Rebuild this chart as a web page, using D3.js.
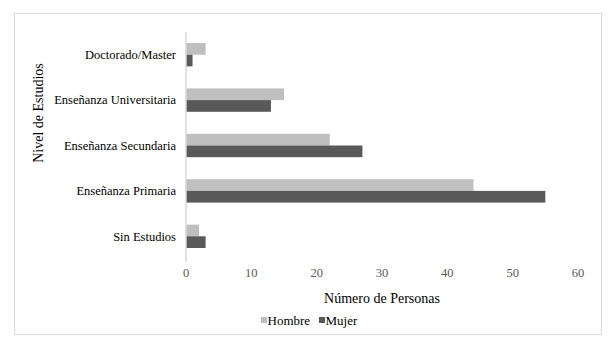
<!DOCTYPE html>
<html>
<head>
<meta charset="utf-8">
<script src="https://cdn.jsdelivr.net/npm/d3@7"></script>
<style>
	body { margin: 0; background: #fff; }
</style>
</head>
<body>
<svg id="chart" width="611" height="345" font-family="'Liberation Serif', 'Times New Roman', Times, serif"></svg>
<script>
// categories top to bottom, as drawn
var categories = ["Doctorado/Master", "Enseñanza Universitaria", "Enseñanza Secundaria", "Enseñanza Primaria", "Sin Estudios"];
var hombre = [3, 15, 22, 44, 2];
var mujer  = [1, 13, 27, 55, 3];
var seriesNames = ["Hombre", "Mujer"];
var seriesColors = ["#bfbfbf", "#595959"];
var xTicks = [0, 10, 20, 30, 40, 50, 60];

var svg = d3.select("#chart");
var serif = "'Liberation Serif', 'Times New Roman', Times, serif";

// outer frame
svg.append("rect")
	.attr("x", 14.5).attr("y", 13.5)
	.attr("width", 587).attr("height", 321)
	.attr("fill", "#fff")
	.attr("stroke", "#d9d9d9")
	.attr("stroke-width", 1);

var plot = { left: 186, right: 578, top: 32, bottom: 259 };

var x = d3.scaleLinear().domain([0, 60]).range([plot.left, plot.right]);
var y = d3.scaleBand().domain(categories).range([plot.top, plot.bottom]).paddingInner(0.485).paddingOuter(0.2425);
var inner = d3.scaleBand().domain(seriesNames).range([0, y.bandwidth()]);

var rows = categories.map(function(c, i){
	return { cat: c, values: [hombre[i], mujer[i]] };
});

var g = svg.append("g");
g.selectAll(".row")
	.data(rows)
	.enter().append("g")
	.attr("class", "row")
	.attr("transform", function(d){ return "translate(0," + y(d.cat) + ")"; })
	.selectAll("rect")
	.data(function(d){ return d.values.map(function(v, k){ return { name: seriesNames[k], v: v, k: k }; }); })
	.enter().append("rect")
	.attr("x", x(0))
	.attr("y", function(d){ return inner(d.name); })
	.attr("width", function(d){ return x(d.v) - x(0); })
	.attr("height", inner.bandwidth())
	.attr("fill", function(d){ return seriesColors[d.k]; });

// vertical axis line
svg.append("line")
	.attr("x1", x(0)).attr("x2", x(0))
	.attr("y1", plot.top).attr("y2", plot.bottom + 3)
	.attr("stroke", "#d9d9d9")
	.attr("stroke-width", 1.5);

// category labels
svg.append("g").selectAll("text")
	.data(categories)
	.enter().append("text")
	.attr("x", 176)
	.attr("y", function(d){ return y(d) + y.bandwidth() / 2; })
	.attr("dy", "0.35em")
	.attr("text-anchor", "end")
	.attr("font-family", serif)
	.attr("font-size", 12.5)
	.attr("fill", "#000")
	.text(function(d){ return d; });

// x tick labels
svg.append("g").selectAll("text")
	.data(xTicks)
	.enter().append("text")
	.attr("x", function(d){ return x(d); })
	.attr("y", 273)
	.attr("dy", "0.35em")
	.attr("text-anchor", "middle")
	.attr("font-family", serif)
	.attr("font-size", 12.5)
	.attr("fill", "#595959")
	.text(function(d){ return d; });

// axis titles
svg.append("text")
	.attr("x", 382).attr("y", 298)
	.attr("dy", "0.35em")
	.attr("text-anchor", "middle")
	.attr("font-family", serif)
	.attr("font-size", 14)
	.attr("fill", "#000")
	.text("Número de Personas");

svg.append("text")
	.attr("transform", "translate(38,113) rotate(-90)")
	.attr("dy", "0.35em")
	.attr("text-anchor", "middle")
	.attr("font-family", serif)
	.attr("font-size", 14)
	.attr("fill", "#000")
	.text("Nivel de Estudios");

// legend
var legendX = [261, 319];
var leg = svg.append("g").selectAll("g")
	.data(seriesNames)
	.enter().append("g")
	.attr("transform", function(d, i){ return "translate(" + legendX[i] + ",320)"; });
leg.append("rect")
	.attr("x", 0).attr("y", -3)
	.attr("width", 6).attr("height", 6)
	.attr("fill", function(d, i){ return seriesColors[i]; });
leg.append("text")
	.attr("x", 6.5).attr("y", 0)
	.attr("dy", "0.35em")
	.attr("font-family", serif)
	.attr("font-size", 13)
	.attr("fill", "#000")
	.text(function(d){ return d; });
</script>
</body>
</html>
